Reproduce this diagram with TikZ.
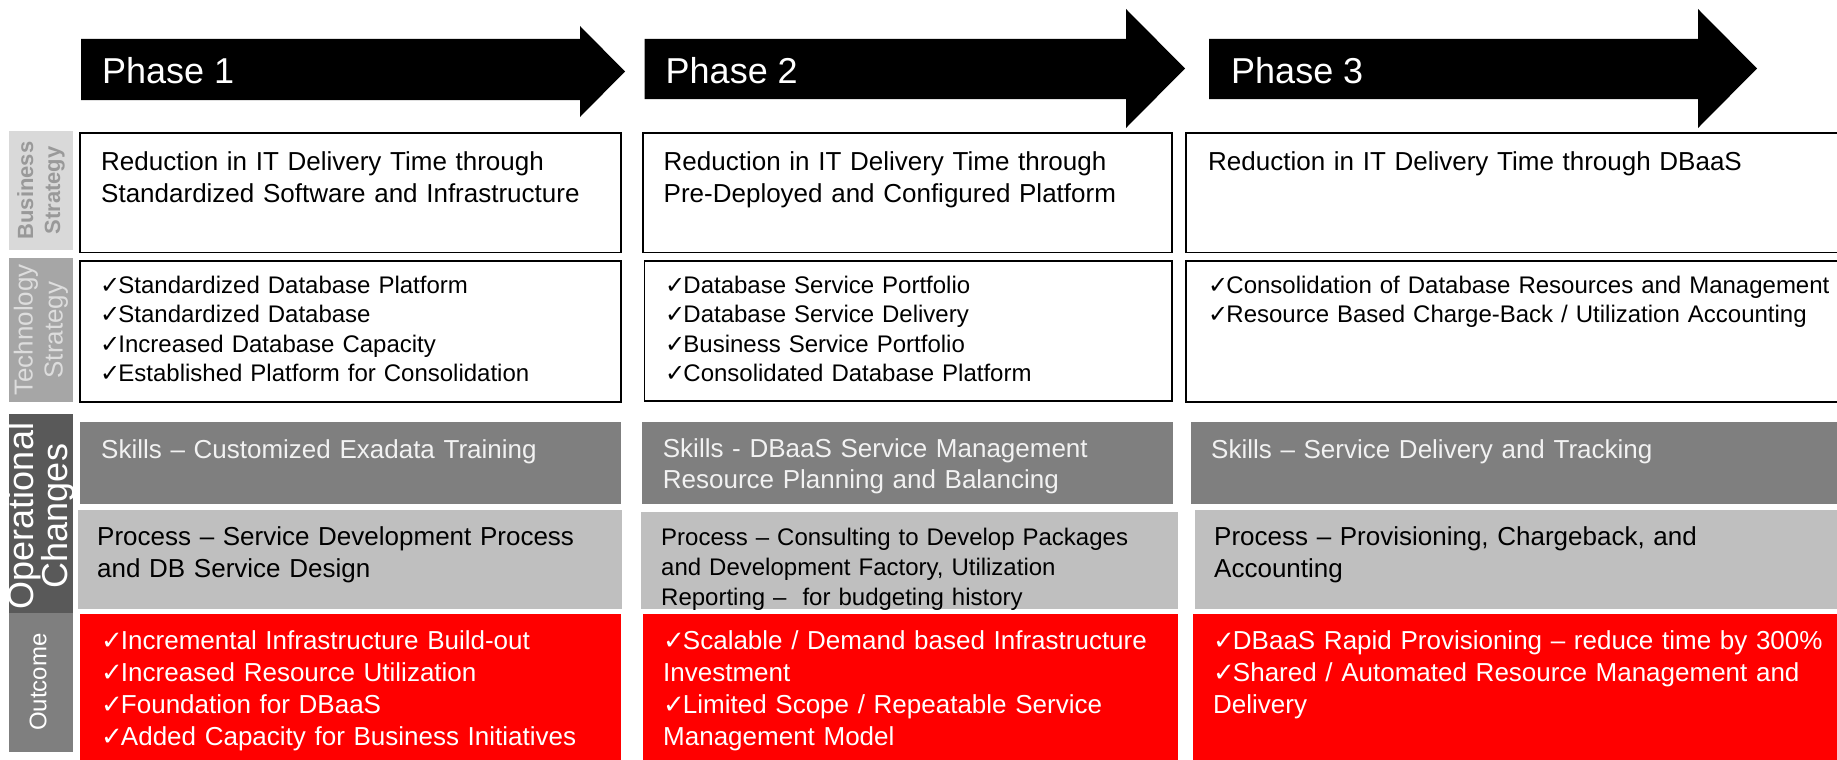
\documentclass[tikz,border=0pt]{standalone}
\usepackage{fontspec}
\usepackage{graphicx}
\setmainfont{Liberation Sans}
\newfontfamily\symfont{DejaVu Sans}
\newcommand\ck{\makebox[0.76em][l]{\symfont ✓}}
\newcommand\fs[2]{\fontsize{#1pt}{#2pt}\selectfont}
\definecolor{lblBS}{HTML}{D9D9D9}
\definecolor{lblBStext}{HTML}{999999}
\definecolor{lblTS}{HTML}{A6A6A6}
\definecolor{lblTStext}{HTML}{DDDDDD}
\definecolor{lblOC}{HTML}{595959}
\definecolor{lblOut}{HTML}{7F7F7F}
\definecolor{skillfill}{HTML}{7F7F7F}
\definecolor{skilltext}{HTML}{F2F2F2}
\definecolor{procfill}{HTML}{BFBFBF}
\definecolor{outfill}{HTML}{FF0000}
\begin{document}
\begin{tikzpicture}[x=1pt,y=-1pt,
  phasearrow/.style={fill=black},
  phasetxt/.style={anchor=base west,inner sep=0pt,text=white,font=\fs{36}{40}},
  wbox/.style={draw=black,line width=1.8pt,fill=white},
  skillbox/.style={fill=skillfill},
  procbox/.style={fill=procfill},
  outbox/.style={fill=outfill},
  txt/.style={anchor=base west,inner sep=0pt,align=left,text width=720pt},
  bigtxt/.style={txt,font=\fs{26}{32.5}},
  listtxt/.style={txt,font=\fs{24}{29.6}},
  sidelbl/.style={rotate=90,align=center,inner sep=0pt},
]
\clip (0,0) rectangle (1837,760);
\fill[white] (0,0) rectangle (1837,760);

% phase arrows
\fill[phasearrow] (81,39) -- (580,39) -- (580,26) -- (625,71.5) -- (580,117) -- (580,100) -- (81,100) -- cycle;
\node[phasetxt] (p1) at (102,84) {Phase 1};
\fill[phasearrow] (644.5,39) -- (1126,39) -- (1126,9) -- (1185,68.5) -- (1126,128) -- (1126,99) -- (644.5,99) -- cycle;
\node[phasetxt] (p2) at (665.5,84) {Phase 2};
\fill[phasearrow] (1209,39) -- (1698,39) -- (1698,9) -- (1757,68.5) -- (1698,128) -- (1698,99) -- (1209,99) -- cycle;
\node[phasetxt] (p3) at (1231,84) {Phase 3};

% side labels
\fill[lblBS] (9,131) rectangle (73,250);
\node[sidelbl,text=lblBStext,font=\bfseries\fs{22}{27}] (lbs) at (41,190.5) {Business\\Strategy};
\fill[lblTS] (9,258) rectangle (73,402);
\node[sidelbl,text=lblTStext,font=\fs{26}{30}] (lts) at (41,330) {Technology\\Strategy};
\fill[lblOC] (9,414) rectangle (73,613);
\node[sidelbl,text=white,font=\fs{36}{30}] (loc) at (41,516) {Operational\\Changes};
\fill[lblOut] (9,613) rectangle (73,752);
\node[sidelbl,text=white,font=\fs{24}{28}] (lout) at (38,682) {Outcome};

% column 1
\draw[wbox] (80,133) rectangle (621,252.5);
\node[bigtxt] (bs1) at (101,170) {Reduction in IT Delivery Time through\\Standardized Software and Infrastructure};
\draw[wbox] (80,261) rectangle (621,402);
\node[listtxt] (ts1) at (100,293) {\ck Standardized Database Platform\\\ck Standardized Database\\\ck Increased Database Capacity\\\ck Established Platform for Consolidation};
\fill[skillbox] (80,422) rectangle (621,504);
\node[bigtxt,text=skilltext] (sk1) at (101,458) {Skills – Customized Exadata Training};
\fill[procbox] (78,510) rectangle (622,609);
\node[bigtxt,font=\fs{26}{32}] (pr1) at (97,545) {Process – Service Development Process\\and DB Service Design};
\fill[outbox] (80,614) rectangle (621,765);
\node[bigtxt,text=white,font=\fs{26}{32}] (oc1) at (101,649) {\ck Incremental Infrastructure Build-out\\\ck Increased Resource Utilization\\\ck Foundation for DBaaS\\\ck Added Capacity for Business Initiatives};

% column 2
\draw[wbox] (643,133) rectangle (1172,252.5);
\node[bigtxt] (bs2) at (663.5,170) {Reduction in IT Delivery Time through\\Pre-Deployed and Configured Platform};
\draw[wbox] (644.5,261) rectangle (1172,401);
\node[listtxt] (ts2) at (665,293) {\ck Database Service Portfolio\\\ck Database Service Delivery\\\ck Business Service Portfolio\\\ck Consolidated Database Platform};
\fill[skillbox] (642,422) rectangle (1173,504);
\node[bigtxt,text=skilltext,font=\fs{26}{31.5}] (sk2) at (662.7,457) {Skills - DBaaS Service Management\\Resource Planning and Balancing};
\fill[procbox] (641,512) rectangle (1177.5,609);
\node[listtxt,font=\fs{24}{29.9}] (pr2) at (661,545.5) {Process – Consulting to Develop Packages\\and Development Factory, Utilization\\Reporting –~ for budgeting history};
\fill[outbox] (643,614) rectangle (1177.5,765);
\node[bigtxt,text=white,font=\fs{26}{32}] (oc2) at (663,649) {\ck Scalable / Demand based Infrastructure\\Investment\\\ck Limited Scope / Repeatable Service\\Management Model};

% column 3
\draw[wbox] (1186,133) rectangle (1850,252.5);
\node[bigtxt] (bs3) at (1208,170) {Reduction in IT Delivery Time through DBaaS};
\draw[wbox] (1186,261) rectangle (1850,402);
\node[listtxt] (ts3) at (1208,293) {\ck Consolidation of Database Resources and Management\\\ck Resource Based Charge-Back / Utilization Accounting};
\fill[skillbox] (1190.5,422) rectangle (1850,504);
\node[bigtxt,text=skilltext] (sk3) at (1211,458) {Skills – Service Delivery and Tracking};
\fill[procbox] (1195,510) rectangle (1850,609);
\node[bigtxt,font=\fs{26}{32}] (pr3) at (1214,545) {Process – Provisioning, Chargeback, and\\Accounting};
\fill[outbox] (1192.6,614) rectangle (1850,765);
\node[bigtxt,text=white,font=\fs{26}{32}] (oc3) at (1213,649) {\ck DBaaS Rapid Provisioning – reduce time by 300\%\\\ck Shared / Automated Resource Management and\\Delivery};
\end{tikzpicture}
\end{document}
